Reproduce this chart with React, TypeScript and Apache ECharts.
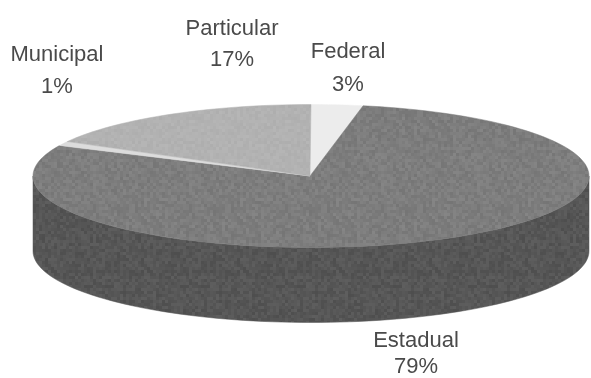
import React, { useEffect, useRef } from "react";
import * as echarts from "echarts";

const categories = ["Federal", "Estadual", "Municipal", "Particular"];
const shares = [3, 79, 1, 17];

const topColors = ["#ececec", "#7b7b7b", "#dcdcdc", "#b2b2b2"];
const wallColor = "#565656";
const labelCentres = [
  [348, 50, 83],
  [416, 339, 365],
  [57, 53, 85],
  [232, 27, 58],
];
const disc = { cx: 311, cy: 176, rx: 278, ry: 71.5, depth: 75 };

// A small scanned-print grain, tiled over a base grey.
const grain = (base: number, spread: number) => {
  const size = 96;
  const cell = 3;
  const canvas = document.createElement("canvas");
  canvas.width = size;
  canvas.height = size;
  const ctx = canvas.getContext("2d")!;
  for (let y = 0; y < size; y += cell) {
    for (let x = 0; x < size; x += cell) {
      const h = Math.sin(x * 12.9898 + y * 78.233 + base) * 43758.5453;
      const v = Math.round(base + (h - Math.floor(h) - 0.5) * spread);
      ctx.fillStyle = `rgb(${v},${v},${v})`;
      ctx.fillRect(x, y, cell, cell);
    }
  }
  return { image: canvas, repeat: "repeat" };
};

const onEllipse = (deg: number, dy = 0) => {
  const t = (deg * Math.PI) / 180;
  return [disc.cx + disc.rx * Math.sin(t), disc.cy - disc.ry * Math.cos(t) + dy];
};
const arc = (from: number, to: number, dy = 0) => {
  const pts: number[][] = [];
  const n = Math.max(2, Math.ceil((to - from) / 2));
  for (let i = 0; i <= n; i++) pts.push(onEllipse(from + ((to - from) * i) / n, dy));
  return pts;
};
const total = shares.reduce((a, b) => a + b, 0);

export default function App() {
  const ref = useRef<HTMLDivElement>(null);
  useEffect(() => {
    document.body.style.margin = "0";
    const topFills: any[] = [topColors[0], grain(125, 16), topColors[2], grain(178, 8)];
    const wallFill: any = grain(86, 16);
    const renderSlice = (params: any, api: any) => {
      const i = params.dataIndex;
      const before = shares.slice(0, i).reduce((a, b) => a + b, 0);
      const start = (before / total) * 360;
      const end = start + (api.value(1) / total) * 360;
      const children: any[] = [];
      const wallFrom = Math.max(start, 90);
      const wallTo = Math.min(end, 270);
      if (wallTo > wallFrom) {
        children.push({
          type: "polygon",
          shape: { points: [...arc(wallFrom, wallTo), ...arc(wallFrom, wallTo, disc.depth).reverse()] },
          style: { fill: wallFill, stroke: wallColor, lineWidth: 0.5 },
        });
      }
      children.push({
        type: "polygon",
        shape: { points: [[disc.cx - 1, disc.cy], ...arc(start, end)] },
        style: { fill: topFills[i], stroke: topColors[i], lineWidth: 0.5 },
      });
      const [x, y1, y2] = labelCentres[i];
      const textStyle = { fontFamily: "Liberation Sans", fontSize: 22, fill: "#4a4a4a", align: "center", verticalAlign: "middle" };
      children.push({ type: "text", style: { ...textStyle, x, y: y1, text: categories[i] } });
      children.push({ type: "text", style: { ...textStyle, x, y: y2, text: `${api.value(1)}%` } });
      return { type: "group", children };
    };
    const chart = echarts.init(ref.current!, undefined, { renderer: "svg" });
    chart.setOption({
      animation: false,
      backgroundColor: "#ffffff",
      series: [
        {
          type: "custom",
          coordinateSystem: "none",
          renderItem: renderSlice,
          silent: true,
          clip: false,
          data: categories.map((c, i) => ({ name: c, value: [i, shares[i]] })),
        },
      ],
    });
    return () => chart.dispose();
  }, []);
  return <div ref={ref} style={{ width: 591, height: 378, overflow: "hidden", filter: "blur(0.6px)" }} />;
}
